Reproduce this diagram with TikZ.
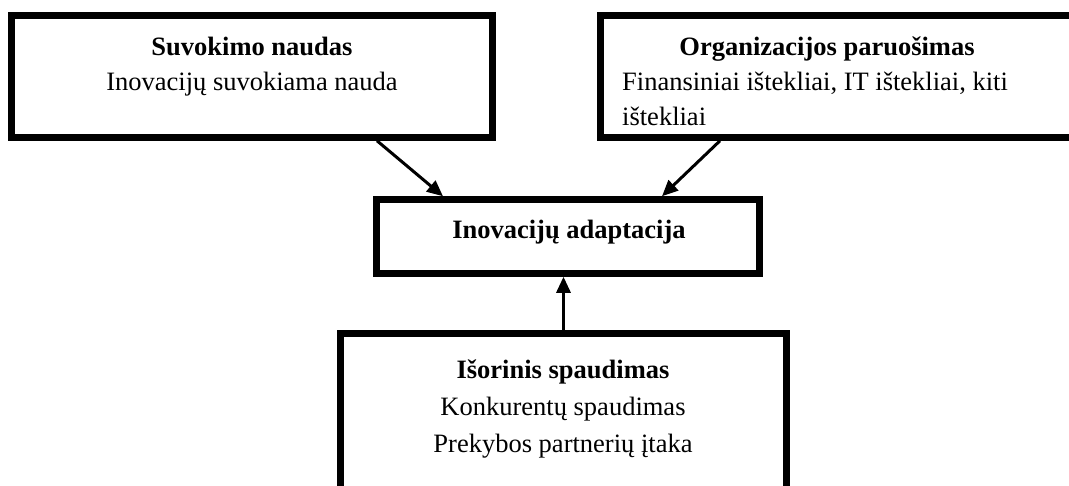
\documentclass[tikz,border=0pt]{standalone}
\usepackage{fontspec}
\setmainfont{Liberation Serif}
\usetikzlibrary{arrows.meta}
\begin{document}
\begin{tikzpicture}[x=1pt,y=-1pt,
  box/.style={draw=black, line width=6.5pt, inner sep=0pt},
  txt/.style={font=\fontsize{26.5}{36}\selectfont, inner sep=0pt},
  ttl/.style={font=\fontsize{26.5}{36}\selectfont\bfseries, inner sep=0pt},
  link/.style={-{Triangle[length=16pt,width=14pt]}, line width=3pt}]
  \useasboundingbox (0,0) rectangle (1069,485);
  \fill[white] (0,0) rectangle (1069,485);
  \clip (0,0) rectangle (1069,485);

  % frames
  \node[box, minimum width=481pt, minimum height=122pt] (b1) at (252,76.5) {};
  \node[box, minimum width=479.5pt, minimum height=122pt] (b2) at (840.25,76.5) {};
  \node[box, minimum width=383pt, minimum height=74pt] (ca) at (568,236.5) {};
  \node[box, minimum width=446pt, minimum height=166.5pt] (b3) at (563.5,416.75) {};

  % texts
  \node[ttl, anchor=base] (t1) at (252,55) {Suvokimo naudas};
  \node[txt, anchor=base] (t1a) at (252,90) {Inovacijų suvokiama nauda};

  \node[ttl, anchor=base] (t2) at (827,55) {Organizacijos paruošimas};
  \node[txt, anchor=base west] (t2a) at (622,90) {Finansiniai ištekliai, IT ištekliai, kiti};
  \node[txt, anchor=base west] (t2b) at (622,125) {ištekliai};

  \node[ttl, anchor=base] (tc) at (569,238) {Inovacijų adaptacija};

  \node[ttl, anchor=base] (t3) at (563,378) {Išorinis spaudimas};
  \node[txt, anchor=base] (t3a) at (563,415) {Konkurentų spaudimas};
  \node[txt, anchor=base] (t3b) at (563,452) {Prekybos partnerių įtaka};

  % connectors
  \draw[link] ([xshift=125pt]b1.south) -- ([xshift=-125pt]ca.north);
  \draw[link] ([xshift=-120.25pt]b2.south) -- ([xshift=94pt]ca.north);
  \draw[link] (b3.north) -- ([xshift=-4.5pt]ca.south);
\end{tikzpicture}
\end{document}
